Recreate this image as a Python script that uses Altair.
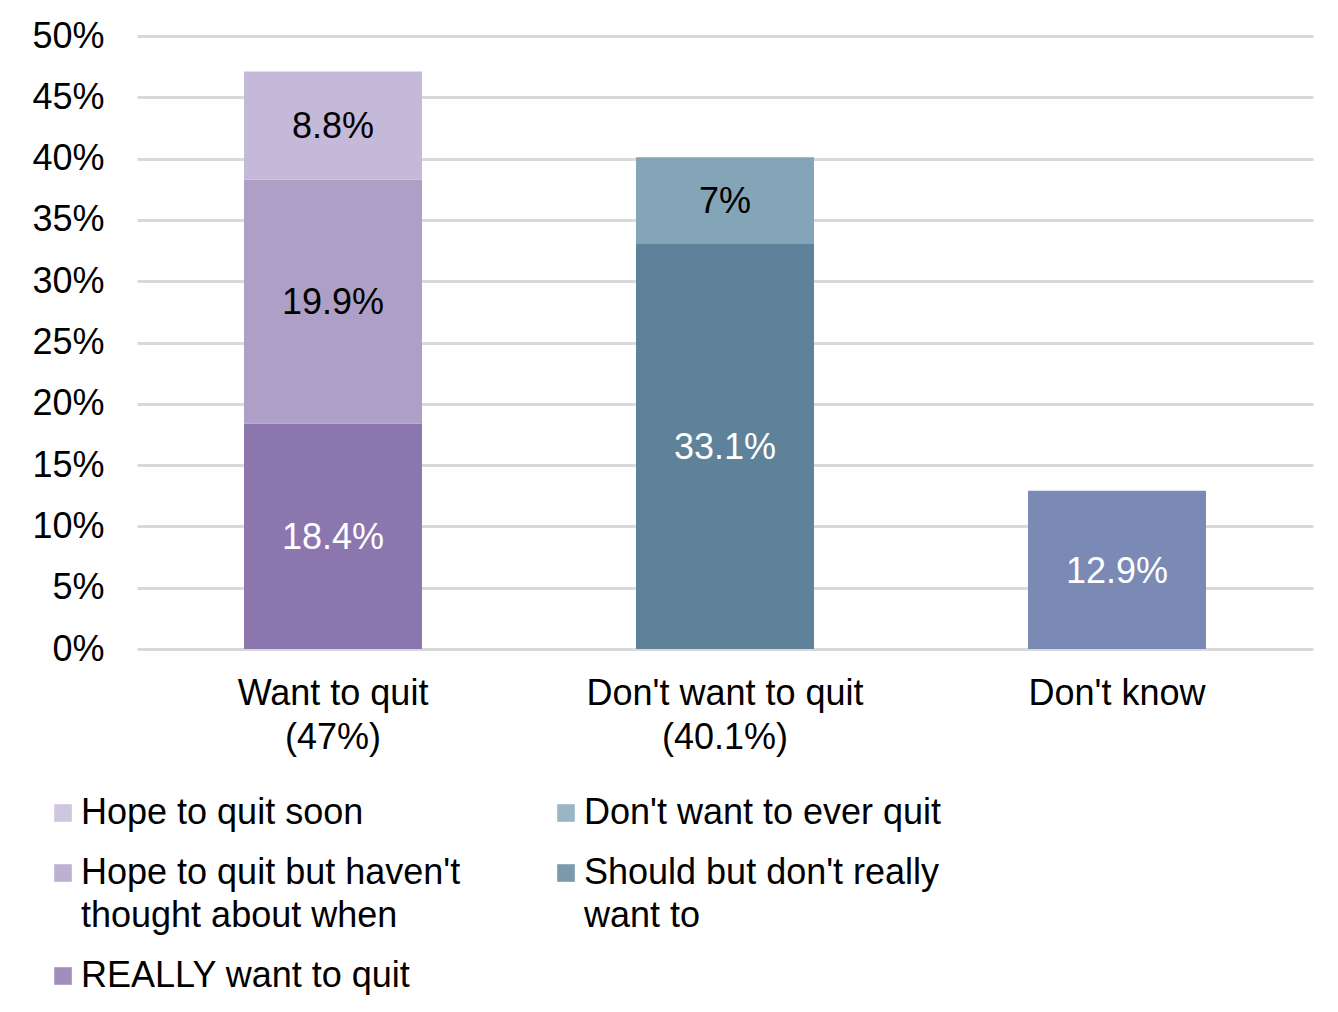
import altair as alt
import pandas as pd

categories = ["Want to quit\n(47%)", "Want to quit\n(47%)", "Want to quit\n(47%)",
              "Don't want to quit\n(40.1%)", "Don't want to quit\n(40.1%)", "Don't know"]
segments = ["REALLY want to quit", "Hope to quit but haven't\nthought about when", "Hope to quit soon",
            "Should but don't really\nwant to", "Don't want to ever quit", "Don't know"]
values = [18.4, 19.9, 8.8, 33.1, 7.0, 12.9]
stack_order = [1, 2, 3, 1, 2, 1]
value_labels = ["18.4%", "19.9%", "8.8%", "33.1%", "7%", "12.9%"]

category_order = ["Want to quit\n(47%)", "Don't want to quit\n(40.1%)", "Don't know"]
segment_colors = ["#8B76AE", "#AE9FC6", "#C4B9D8", "#5E8299", "#84A5B8", "#7B89B5"]
text_colors = ["#FFFFFF", "#000000", "#000000", "#FFFFFF", "#000000", "#FFFFFF"]
legend_entries = ["Hope to quit soon", "Hope to quit but haven't\nthought about when",
                  "REALLY want to quit", "Don't want to ever quit",
                  "Should but don't really\nwant to"]

df = pd.DataFrame({
    "category": categories,
    "segment": segments,
    "value": values,
    "order": stack_order,
    "label": value_labels,
})

FONT = "Liberation Sans"
FS = 36

base = alt.Chart(df).transform_window(
    cum="sum(value)", sort=[alt.SortField("order")], groupby=["category"],
    frame=[None, 0]
).transform_calculate(
    mid="datum.cum - datum.value / 2"
)

x = alt.X("category:N", sort=category_order,
          scale=alt.Scale(paddingInner=0.546, paddingOuter=0.273),
          axis=alt.Axis(title=None, labelExpr="split(datum.label, '\\n')", labelAngle=0,
                        labelFontSize=FS, labelColor="#000000", labelFont=FONT,
                        labelPadding=27, labelLineHeight=44, labelLimit=600,
                        ticks=False, domain=False))

bars = base.mark_bar().encode(
    x=x,
    y=alt.Y("value:Q", stack="zero",
            scale=alt.Scale(domain=[0, 50], nice=False),
            axis=alt.Axis(title=None, values=list(range(0, 55, 5)),
                          labelExpr="datum.value + '%'", labelFontSize=FS,
                          labelColor="#000000", labelFont=FONT, labelPadding=33,
                          ticks=False, domain=False, gridColor="#D9D9D9", gridWidth=3)),
    color=alt.Color("segment:N",
                    scale=alt.Scale(domain=segments, range=segment_colors),
                    legend=alt.Legend(title=None, values=legend_entries, orient="none",
                                      legendX=-92, legendY=759, columns=2,
                                      symbolType="square", symbolSize=310,
                                      symbolStrokeWidth=0, symbolOpacity=0.82,
                                      labelFontSize=FS, labelFont=FONT, labelColor="#000000",
                                      labelLimit=700, labelOffset=0, rowPadding=24,
                                      columnPadding=87,
                                      labelExpr="split(datum.label, '\\n')")),
    order=alt.Order("order:Q"),
)

texts = base.mark_text(fontSize=FS, font=FONT, baseline="middle", dy=2).encode(
    x=alt.X("category:N", sort=category_order),
    y=alt.Y("mid:Q"),
    text="label:N",
    color=alt.Color("segment:N", scale=alt.Scale(domain=segments, range=text_colors), legend=None),
)

chart = alt.layer(bars, texts).resolve_scale(color="independent").properties(
    width=1176, height=613,
    autosize=alt.AutoSizeParams(type="none"),
    padding={"left": 129, "top": 28, "right": 17, "bottom": 355},
).configure(font=FONT, style={"guide-label": {"lineHeight": 43}}).configure_view(strokeWidth=0)

chart.save("out.html", embed_options={"renderer": "svg", "actions": False})
